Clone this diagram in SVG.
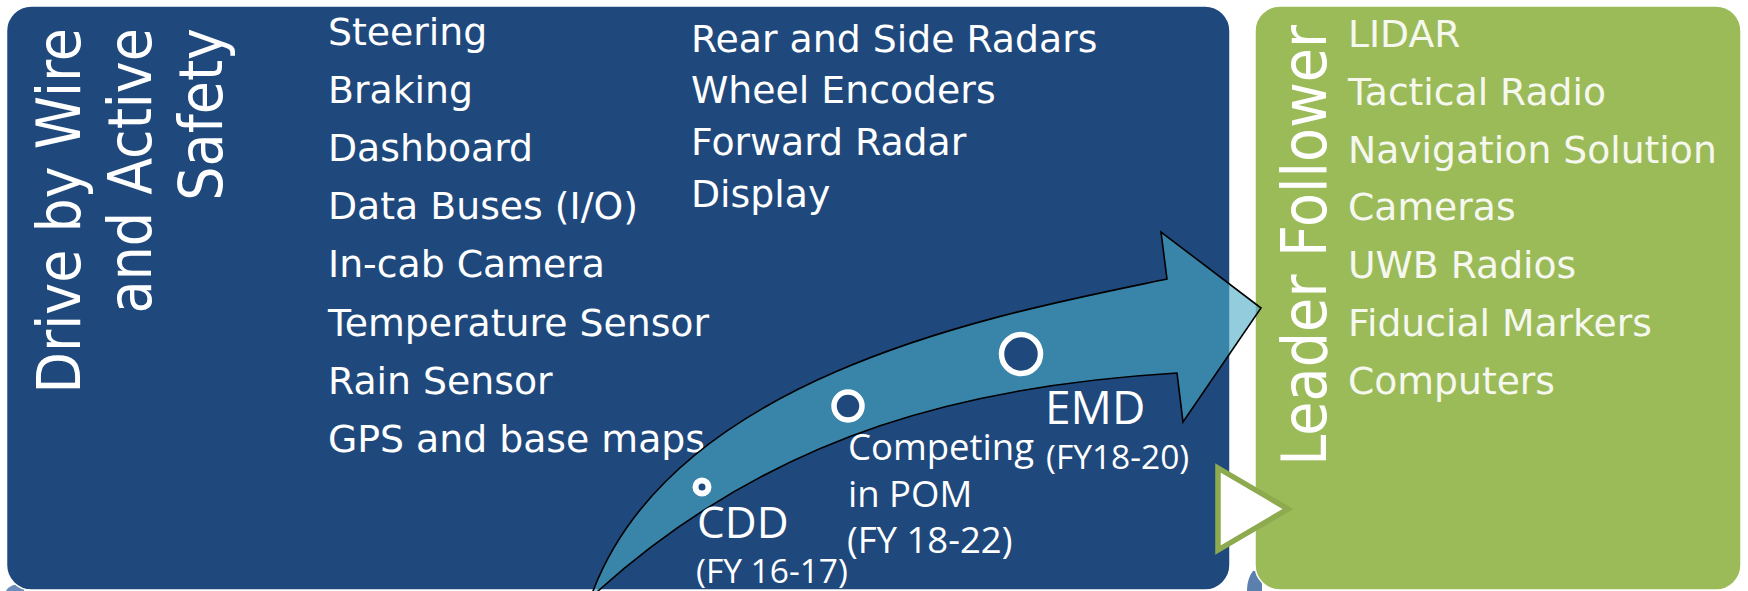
<svg xmlns="http://www.w3.org/2000/svg" width="1748" height="591" viewBox="0 0 1748 591">
  <style>
    .item { font-family: "DejaVu Sans", Verdana, sans-serif; font-size: 37.8px; fill: #FFFFFF; }
    .item-lf { font-family: "DejaVu Sans", Verdana, sans-serif; font-size: 37.7px; fill: #F6F8F0; }
    .title { font-family: "DejaVu Sans Condensed", "DejaVu Sans", sans-serif; font-stretch: condensed; font-size: 60px; fill: #FFFFFF; text-anchor: end; }
    .title-lf { font-size: 62px; }
    .phase { font-family: "Open Sans", "Liberation Sans", sans-serif; fill: #FFFFFF; }
    .ring { fill: #1F497D; stroke: #FFFFFF; }
  </style>

  <rect width="1748" height="591" fill="#FFFFFF"/>

  <!-- shapes of the next row, peeking out below the boxes -->
  <g id="next-row">
    <path d="M1247,591 C1247,583 1249,576 1253,571 L1262,571 L1262,591 Z" fill="#5B80AE"/>
    <path d="M6,591 C8,587 12,585 18,584 L24,584 L24,591 Z" fill="#6C8DB8"/>
  </g>

  <!-- Drive by Wire and Active Safety -->
  <g id="node-drive-by-wire">
    <rect x="6.5" y="6" width="1223.5" height="584" rx="25" ry="25" fill="#1F497D" stroke="#FFFFFF" stroke-width="1.5"/>
    <text class="title" transform="translate(80,28) rotate(-90)">Drive by Wire</text>
    <text class="title" transform="translate(151,28) rotate(-90)">and Active</text>
    <text class="title" transform="translate(222,28) rotate(-90)">Safety</text>
    <g class="item">
      <text x="328" y="44.5">Steering</text>
      <text x="328" y="102.7">Braking</text>
      <text x="328" y="160.9">Dashboard</text>
      <text x="328" y="219.1">Data Buses (I/O)</text>
      <text x="328" y="277.3">In-cab Camera</text>
      <text x="328" y="335.5">Temperature Sensor</text>
      <text x="328" y="393.7">Rain Sensor</text>
      <text x="328" y="451.9">GPS and base maps</text>
      <text x="691" y="51.7">Rear and Side Radars</text>
      <text x="691" y="103.4">Wheel Encoders</text>
      <text x="691" y="155.1">Forward Radar</text>
      <text x="691" y="206.8">Display</text>
    </g>
  </g>

  <!-- Leader Follower -->
  <g id="node-leader-follower">
    <rect x="1255" y="6" width="486" height="584" rx="25" ry="25" fill="#9BBB59" stroke="#FFFFFF" stroke-width="1.5"/>
    <text class="title title-lf" transform="translate(1326,25) rotate(-90)">Leader Follower</text>
    <g class="item-lf">
      <text x="1348" y="47">LIDAR</text>
      <text x="1348" y="104.8">Tactical Radio</text>
      <text x="1348" y="162.6">Navigation Solution</text>
      <text x="1348" y="220.4">Cameras</text>
      <text x="1348" y="278.2">UWB Radios</text>
      <text x="1348" y="336">Fiducial Markers</text>
      <text x="1348" y="393.8">Computers</text>
    </g>
  </g>

  <!-- connectors -->
  <g id="connectors">
    <path id="progress-arrow" d="M591,597 L593,591 C678,370 1010,312 1167,279 L1161,232 L1261,308 L1183,422 L1177,373 C977,385 778,429 598,591 L591,597 Z"
          fill="#4BACC6" fill-opacity="0.6" stroke="#000000" stroke-width="1.6" stroke-linejoin="miter"/>
    <polygon id="handoff-arrow" points="1218,468 1288,509 1218,550" fill="#FFFFFF" stroke="#8DAA4E" stroke-width="5.5"/>
  </g>

  <!-- milestones along the arrow -->
  <g id="milestone-cdd">
    <circle class="ring" cx="702" cy="487" r="6.5" stroke-width="6"/>
    <text class="phase" x="697" y="538" font-size="44">CDD</text>
    <text class="phase" x="696" y="583" font-size="33.5">(FY 16-17)</text>
  </g>
  <g id="milestone-pom">
    <circle class="ring" cx="848" cy="406" r="14" stroke-width="5.5"/>
    <text class="phase" x="848" y="460" font-size="36.5">Competing</text>
    <text class="phase" x="848" y="507" font-size="36.5">in POM</text>
    <text class="phase" x="847" y="553" font-size="36.5">(FY 18-22)</text>
  </g>
  <g id="milestone-emd">
    <circle class="ring" cx="1021" cy="354" r="19.5" stroke-width="5.5"/>
    <text class="phase" x="1045" y="424" font-size="46">EMD</text>
    <text class="phase" x="1046" y="469" font-size="33.5">(FY18-20)</text>
  </g>
</svg>
